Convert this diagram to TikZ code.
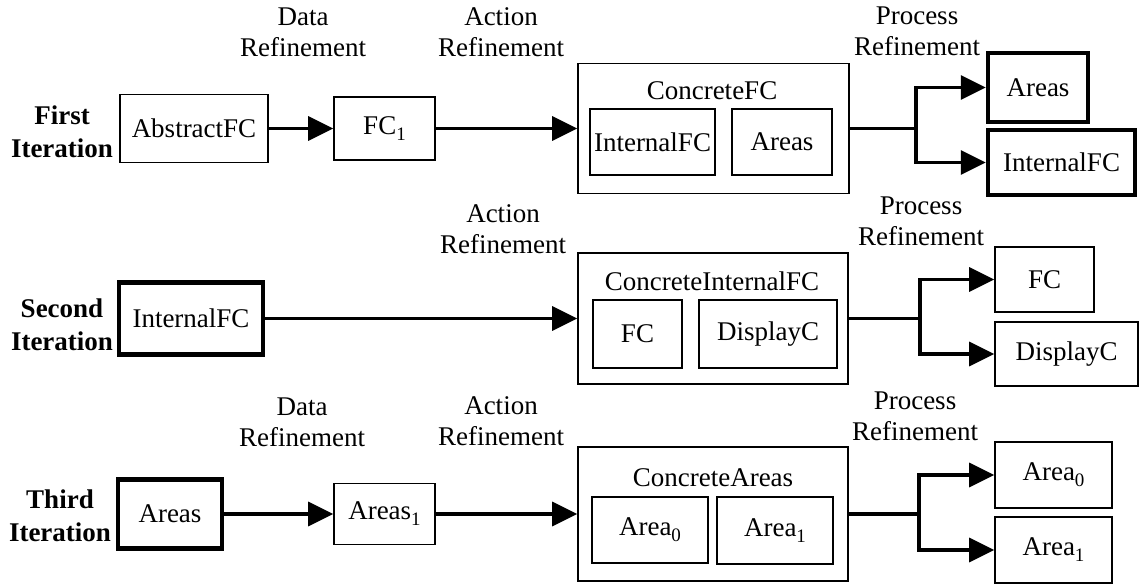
\documentclass[tikz,border=0pt]{standalone}
\usepackage{fontspec}
\setmainfont{Liberation Serif}
\usetikzlibrary{arrows.meta}
\newcommand{\lowsub}[1]{\raisebox{-6pt}{\fontsize{19}{19}\selectfont #1}}
\tikzset{
    box/.style={draw, line width=1.6pt, inner sep=0pt}, % thin box
    bold box/.style={draw, line width=4.5pt, inner sep=0pt}, % thick box
    refine label/.style={align=center, inner sep=0pt},
    iter label/.style={align=center, inner sep=0pt, font=\fontsize{27}{33}\selectfont\bfseries},
    flow/.style={line width=3.2pt, -{Triangle[length=25pt, width=24pt]}}
}

\begin{document}
\begin{tikzpicture}[x=1pt, y=-1pt, font=\fontsize{27}{31}\selectfont]
    \useasboundingbox (0,0) rectangle (1139,587);

    % first iteration
    \node[iter label] (it1) at (62,131.5) {First\\Iteration};
    \node[box, minimum width=148pt, minimum height=68pt] (absfc) at (194,128.5) {AbstractFC};
    \node[box, minimum width=101pt, minimum height=63pt] (fc1) at (384.5,128.5) {FC\lowsub{1}};
    \node[box, minimum width=271pt, minimum height=130pt] (cfc) at (713.5,128.5) {};
    \node[inner sep=0pt] (cfct) at (712,91) {ConcreteFC};
    \node[box, minimum width=125pt, minimum height=66pt] (ibint) at (652.5,142) {InternalFC};
    \node[box, minimum width=100pt, minimum height=66pt] (ibar) at (782,142) {Areas};
    \node[bold box, minimum width=100pt, minimum height=69pt] (oareas) at (1038,87.5) {Areas};
    \node[bold box, minimum width=147pt, minimum height=65pt] (ointfc) at (1061.5,162.5) {InternalFC};
    \coordinate (j1) at (916,128.5);
    \draw[flow] (absfc) -- (fc1);
    \draw[flow] (fc1) -- (cfc);
    \draw[flow] (cfc) -- (j1) |- (oareas);
    \draw[flow] (j1) |- (ointfc);
    \node[refine label] (dr1) at (303,32) {Data\\Refinement};
    \node[refine label] (ar1) at (501,32) {Action\\Refinement};
    \node[refine label] (pr1) at (917,31.5) {Process\\Refinement};

    % second iteration
    \node[iter label] (it2) at (62,324.5) {Second\\Iteration};
    \node[bold box, minimum width=144pt, minimum height=72pt] (ifc) at (191,318.5) {InternalFC};
    \node[box, minimum width=270pt, minimum height=131pt] (cifc) at (713,318.5) {};
    \node[inner sep=0pt] (cifct) at (712,281) {ConcreteInternalFC};
    \node[box, minimum width=89pt, minimum height=68pt] (ibfc) at (637.5,334) {FC};
    \node[box, minimum width=138pt, minimum height=68pt] (ibdisp) at (768,334) {DisplayC};
    \node[box, minimum width=99pt, minimum height=65pt] (ofc) at (1044.5,279.5) {FC};
    \node[box, minimum width=143pt, minimum height=64pt] (odisp) at (1066.5,354) {DisplayC};
    \coordinate (j2) at (920,318.5);
    \draw[flow] (ifc) -- (cifc);
    \draw[flow] (cifc) -- (j2) |- (ofc);
    \draw[flow] (j2) |- (odisp);
    \node[refine label] (ar2) at (503,229) {Action\\Refinement};
    \node[refine label] (pr2) at (921,221.5) {Process\\Refinement};

    % third iteration
    \node[iter label] (it3) at (60,515.5) {Third\\Iteration};
    \node[bold box, minimum width=104pt, minimum height=69pt] (areas) at (170,514) {Areas};
    \node[box, minimum width=101pt, minimum height=61pt] (areas1) at (384.5,514) {Areas\lowsub{1}};
    \node[box, minimum width=270pt, minimum height=134pt] (ca) at (713,514) {};
    \node[inner sep=0pt] (cat) at (713,478) {ConcreteAreas};
    \node[box, minimum width=116pt, minimum height=66pt] (iba0) at (650,530) {Area\lowsub{0}};
    \node[box, minimum width=116pt, minimum height=67pt] (iba1) at (775,530.5) {Area\lowsub{1}};
    \node[box, minimum width=117pt, minimum height=66pt] (oa0) at (1053.5,475) {Area\lowsub{0}};
    \node[box, minimum width=117pt, minimum height=66pt] (oa1) at (1053.5,550) {Area\lowsub{1}};
    \coordinate (j3) at (919,514);
    \draw[flow] (areas) -- (areas1);
    \draw[flow] (areas1) -- (ca);
    \draw[flow] (ca) -- (j3) |- (oa0);
    \draw[flow] (j3) |- (oa1);
    \node[refine label] (dr3) at (302,422) {Data\\Refinement};
    \node[refine label] (ar3) at (501,421.5) {Action\\Refinement};
    \node[refine label] (pr3) at (915,416.5) {Process\\Refinement};
\end{tikzpicture}
\end{document}
